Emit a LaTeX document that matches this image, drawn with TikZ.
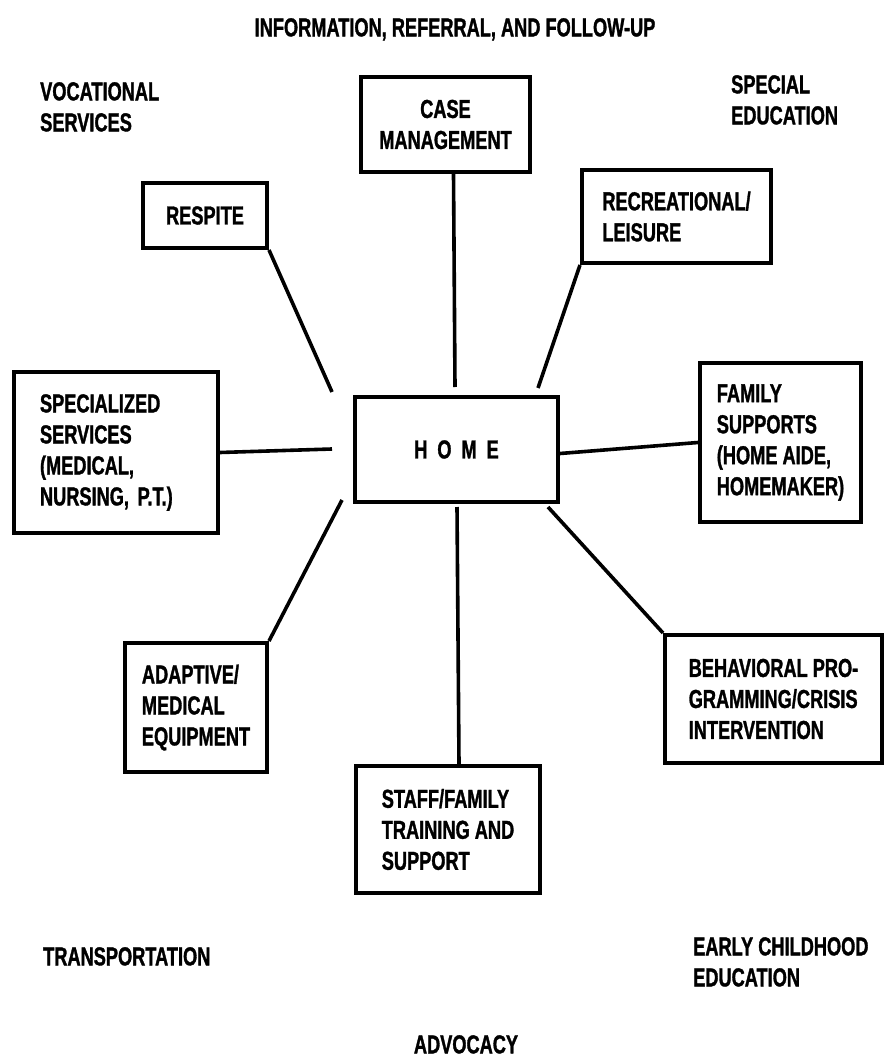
\documentclass[tikz,border=0pt]{standalone}
\usepackage{fontspec}
\setmainfont{Liberation Sans}[FakeStretch=0.7,FakeBold=1.2]
\begin{document}
\begin{tikzpicture}[x=1pt,y=-1pt,
  every node/.style={font=\fontsize{26}{31}\selectfont\bfseries},
  box/.style={draw,line width=4pt,inner sep=0pt,align=left},
  lbl/.style={inner sep=0pt,align=left},
  wire/.style={line width=3.6pt}]
\useasboundingbox[fill=white] (0,0) rectangle (886,1059);
% outer services
\node[lbl,anchor=north] (info) at (455,18) {INFORMATION, REFERRAL, AND FOLLOW-UP};
\node[lbl,anchor=north west] (voc) at (40,82) {VOCATIONAL\\SERVICES};
\node[lbl,anchor=north west] (sped) at (731,75) {SPECIAL\\EDUCATION};
\node[lbl,anchor=north west] (trans) at (43,947) {TRANSPORTATION};
\node[lbl,anchor=north west] (early) at (693,937) {EARLY CHILDHOOD\\EDUCATION};
\node[lbl,anchor=north] (adv) at (466,1035) {ADVOCACY};
% boxes
\node[box,align=center,minimum width=169pt,minimum height=95pt] (case) at (445.5,124.5) {CASE\\MANAGEMENT};
\node[box,minimum width=124pt,minimum height=65pt] (resp) at (205,215.5) {RESPITE};
\node[box,minimum width=189pt,minimum height=93pt] (recr) at (676.5,216.5) {RECREATIONAL/\\LEISURE};
\node[box,inner xsep=26pt,text width=152pt,minimum height=161pt] (spec) at (116,452.5) {SPECIALIZED\\SERVICES\\(MEDICAL,\\NURSING, P.T.)};
\node[box,minimum width=203pt,minimum height=105pt] (home) at (456.5,449.5) {\spaceskip=10pt H O M E};
\node[box,minimum width=161pt,minimum height=159pt] (fam) at (780.5,442.5) {FAMILY\\SUPPORTS\\(HOME AIDE,\\HOMEMAKER)};
\node[box,minimum width=142pt,minimum height=129pt] (adapt) at (196,707.5) {ADAPTIVE/\\MEDICAL\\EQUIPMENT};
\node[box,minimum width=184pt,minimum height=127pt] (staff) at (448,829.5) {STAFF/FAMILY\\TRAINING AND\\SUPPORT};
\node[box,minimum width=217pt,minimum height=128pt] (behav) at (773.5,699) {BEHAVIORAL PRO-\\GRAMMING/CRISIS\\INTERVENTION};
% free ends near home
\coordinate (h1) at (332,392);
\coordinate (h2) at (455,387);
\coordinate (h3) at (538,388);
\coordinate (h4) at (332,449);
\coordinate (h5) at (342,500);
\coordinate (h6) at (457,507);
\coordinate (h7) at (548,507);
\draw[wire] (resp.south east) -- (h1);
\draw[wire] ([xshift=8pt]case.south) -- (h2);
\draw[wire] (recr.south west) -- (h3);
\draw[wire] (spec.east) -- (h4);
\draw[wire] ([yshift=-4pt]home.east) -- (fam.west);
\draw[wire] (h5) -- (adapt.north east);
\draw[wire] (h6) -- ([xshift=11pt]staff.north);
\draw[wire] (h7) -- (behav.north west);
\end{tikzpicture}
\end{document}
